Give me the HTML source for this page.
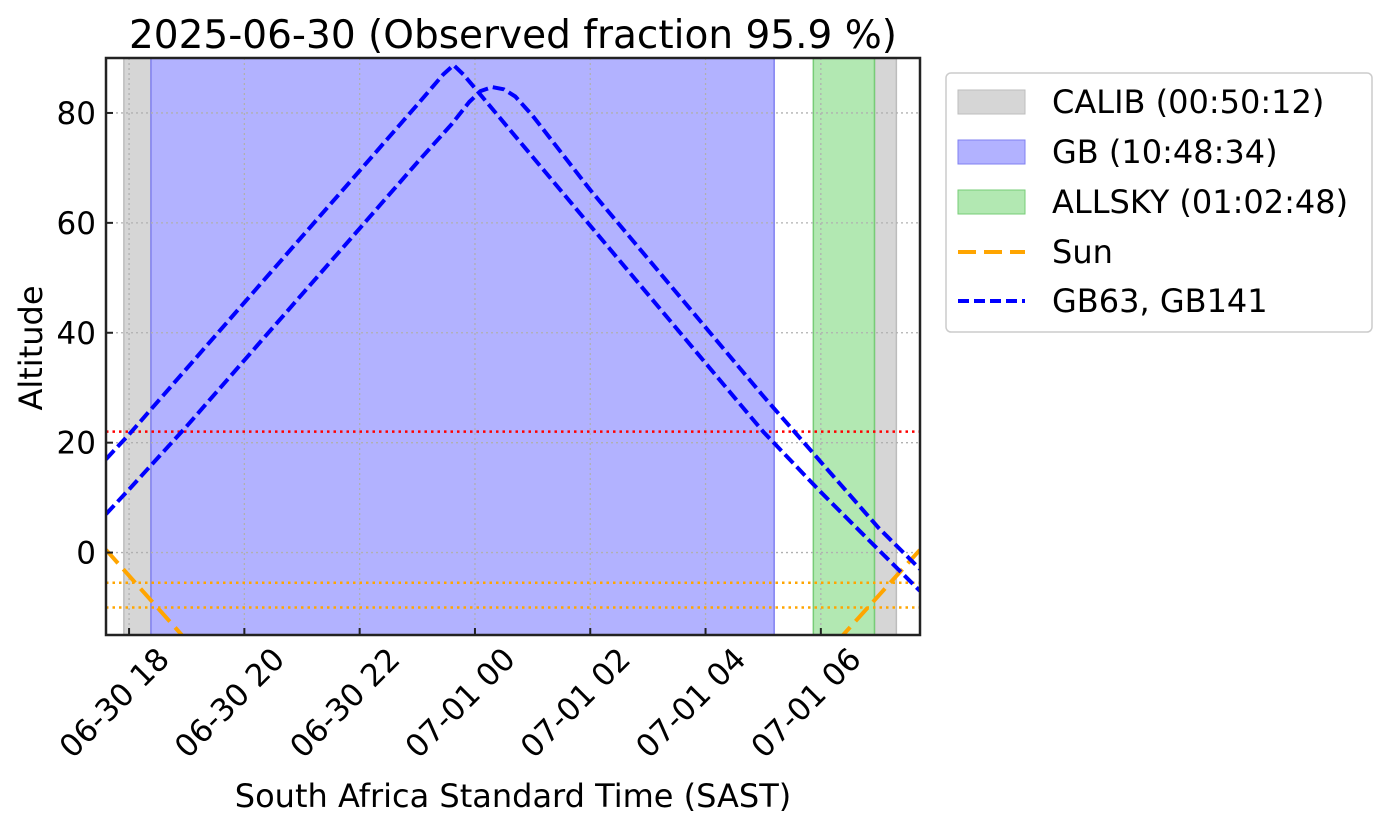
<!DOCTYPE html>
<html><head><meta charset="utf-8"><style>
html,body{margin:0;padding:0;background:#fff;}
svg{display:block;font-family:"DejaVu Sans","Liberation Sans",sans-serif;}
</style></head><body>
<svg id="chart" width="1388" height="829" viewBox="0 0 1388 829">
<text x="513" y="48" font-size="39" text-anchor="middle">2025-06-30 (Observed fraction 95.9 %)</text>
<g id="plot"></g>
<text x="513" y="807" font-size="32" text-anchor="middle">South Africa Standard Time (SAST)</text>
<text x="0" y="0" font-size="32" text-anchor="middle" transform="translate(42,348) rotate(-90)">Altitude</text>
<g>
<rect x="946" y="73" width="426" height="259" rx="5" fill="#fff" stroke="#ccc" stroke-width="1.5"/>
<rect x="958" y="90" width="67" height="24" fill="#d6d6d6" stroke="#bdbdbd"/>
<text x="1052" y="113" font-size="32">CALIB (00:50:12)</text>
<rect x="958" y="140" width="67" height="24" fill="#b2b2ff" stroke="#8080f0"/>
<text x="1052" y="163" font-size="32">GB (10:48:34)</text>
<rect x="958" y="190" width="67" height="24" fill="#b2e8b2" stroke="#77cc77"/>
<text x="1052" y="213" font-size="32">ALLSKY (01:02:48)</text>
<line x1="958" y1="252" x2="1025" y2="252" stroke="orange" stroke-width="4" stroke-dasharray="18 8"/>
<text x="1052" y="263" font-size="32">Sun</text>
<line x1="958" y1="301" x2="1025" y2="301" stroke="#0000ff" stroke-width="4" stroke-dasharray="11 5"/>
<text x="1052" y="312" font-size="32">GB63, GB141</text>
</g>
</svg>
<script>
// data (hours since 2025-06-30 00:00 SAST)
const xTicks = [18, 20, 22, 24, 26, 28, 30];
const xTickLabels = ["06-30 18","06-30 20","06-30 22","07-01 00","07-01 02","07-01 04","07-01 06"];
const yTicks = [0, 20, 40, 60, 80];
const calibSpans = [[17.91, 18.38], [30.93, 31.31]];
const gbSpan = [18.38, 29.19];
const allskySpan = [29.87, 30.93];
const gb63T = [17.6,18,19,20,21,22,23,23.45,23.63,23.8,24,25,26,27,28,29,30,31,31.72];
const gb63Alt = [17,21.5,33.5,45.5,57.5,69.5,81.5,87,88.7,87,84.5,72,59.5,47,34.5,22,11,0.5,-7];
const gb141T = [17.6,18,19,20,21,22,23,23.6,23.9,24.1,24.3,24.5,24.7,25,26,27,28,29,30,31,31.72];
const gb141Alt = [7,11.5,23,35,47,59,71,78,82,84,84.7,84.3,83,79.5,66,53.5,41,28.5,16.5,4.5,-3];
const sunMorningT = [17.6, 19.0];
const sunMorningAlt = [0.5, -16];
const sunEveningT = [30.3, 31.72];
const sunEveningAlt = [-16, 0.5];
const minAlt = 22;
const twilight = [-5.5, -10];

const L=106,R=920,T=58,B=635, X0=17.6, X1=31.72, Y0=-15, Y1=90;
const xs = t => L + (t - X0) / (X1 - X0) * (R - L);
const ys = a => B - (a - Y0) / (Y1 - Y0) * (B - T);
const NS="http://www.w3.org/2000/svg";
const g=document.getElementById('plot');
function mk(tag, attrs, parent){const e=document.createElementNS(NS,tag);for(const k in attrs)e.setAttribute(k,attrs[k]);(parent||g).appendChild(e);return e;}
const clip=mk('clipPath',{id:'pc'});mk('rect',{x:L,y:T,width:R-L,height:B-T},clip);
const inner=mk('g',{'clip-path':'url(#pc)'});
for(const s of calibSpans){const r=mk('rect',{x:xs(s[0]),y:T,width:xs(s[1])-xs(s[0]),height:B-T,fill:'#d6d6d6',stroke:'#bdbdbd','stroke-width':1.5},inner);

}
let r=mk('rect',{x:xs(gbSpan[0]),y:T,width:xs(gbSpan[1])-xs(gbSpan[0]),height:B-T,fill:'#b2b2ff',stroke:'#8080f0','stroke-width':1.5},inner);


r=mk('rect',{x:xs(allskySpan[0]),y:T,width:xs(allskySpan[1])-xs(allskySpan[0]),height:B-T,fill:'#b2e8b2',stroke:'#77cc77','stroke-width':1.5},inner);


for(const t of xTicks){const l=mk('line',{x1:xs(t),x2:xs(t),y1:T,y2:B,stroke:'#b0b0b0','stroke-width':1.3,'stroke-dasharray':'2 3'},inner);

}
for(const a of yTicks){const l=mk('line',{x1:L,x2:R,y1:ys(a),y2:ys(a),stroke:'#b0b0b0','stroke-width':1.3,'stroke-dasharray':'2 3'},inner);

}
let hl=mk('line',{x1:L,x2:R,y1:ys(minAlt),y2:ys(minAlt),stroke:'red','stroke-width':2.5,'stroke-dasharray':'2.5 4'},inner);


for(const a of twilight){const l=mk('line',{x1:L,x2:R,y1:ys(a),y2:ys(a),stroke:'orange','stroke-width':2.5,'stroke-dasharray':'2.5 4'},inner);

}
function path(T_,A_,color,dash,name){const d=T_.map((t,i)=>(i?'L':'M')+xs(t).toFixed(1)+','+ys(A_[i]).toFixed(1)).join(' ');
const p=mk('path',{d:d,fill:'none',stroke:color,'stroke-width':4,'stroke-dasharray':dash,'stroke-linejoin':'round'},inner);

}
path(sunMorningT,sunMorningAlt,'orange','18 8','sun-line-evening');
path(sunEveningT,sunEveningAlt,'orange','18 8','sun-line-morning');
path(gb63T,gb63Alt,'#0000ff','12 5','gb63-line');
path(gb141T,gb141Alt,'#0000ff','12 5','gb141-line');
let f=mk('rect',{x:L,y:T,width:R-L,height:B-T,fill:'none',stroke:'#222','stroke-width':2.5});


xTicks.forEach((t,i)=>{mk('line',{x1:xs(t),x2:xs(t),y1:B,y2:B-7,stroke:'#222','stroke-width':2});
const tx=mk('text',{x:0,y:0,'font-size':31,'text-anchor':'end',transform:`translate(${xs(t)+42},${B+26}) rotate(-45)`});
tx.textContent=xTickLabels[i];

});
yTicks.forEach(a=>{mk('line',{x1:L,x2:L+7,y1:ys(a),y2:ys(a),stroke:'#222','stroke-width':2});
const tx=mk('text',{x:L-10,y:ys(a)+11,'font-size':31,'text-anchor':'end'});
tx.textContent=String(a);

});
</script>
</body></html>
